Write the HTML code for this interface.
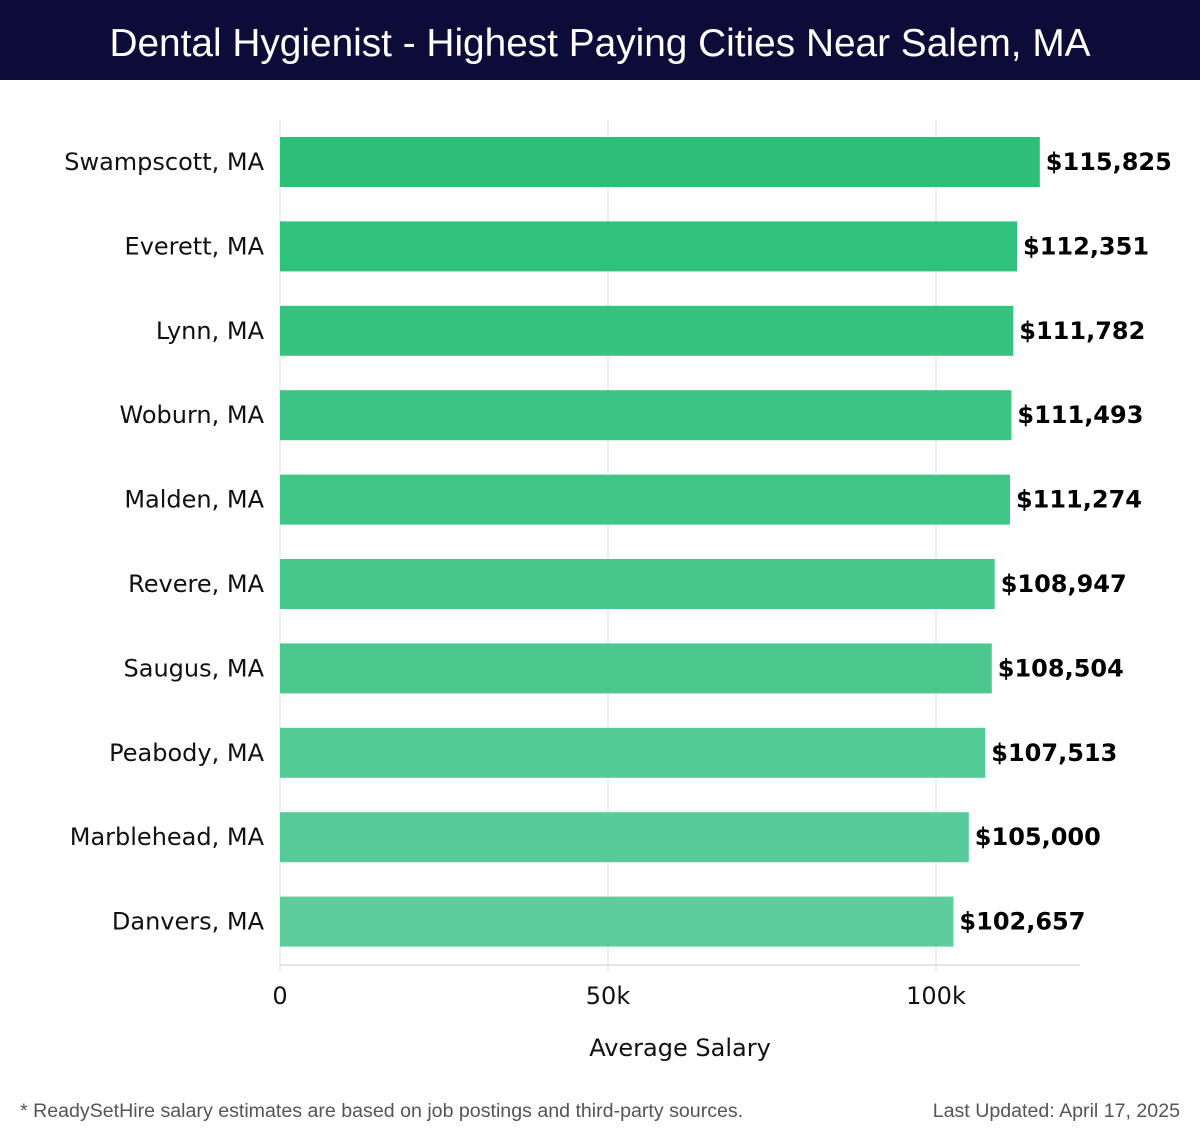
<!DOCTYPE html>
<html><head><meta charset="utf-8"><style>
body{margin:0;width:1200px;height:1140px;background:#fff;overflow:hidden;font-family:"DejaVu Sans","Liberation Sans",sans-serif}
#hdr{position:absolute;left:0;top:0;width:1200px;height:80px;background:#0d0c38;color:#fff;font-family:"Liberation Sans",sans-serif;font-size:38.8px;font-weight:300;text-align:center;line-height:88px}
.foot{position:absolute;top:1100px;font-family:"Liberation Sans",sans-serif;font-size:19.6px;color:#555}
</style></head><body>
<div id="hdr">Dental Hygienist - Highest Paying Cities Near Salem, MA</div>
<svg id="chart" width="1200" height="1100" style="position:absolute;left:0;top:0"></svg>
<div class="foot" style="left:20px">* ReadySetHire salary estimates are based on job postings and third-party sources.</div>
<div class="foot" style="right:20px">Last Updated: April 17, 2025</div>
<script>
const cities=["Swampscott, MA","Everett, MA","Lynn, MA","Woburn, MA","Malden, MA","Revere, MA","Saugus, MA","Peabody, MA","Marblehead, MA","Danvers, MA"];
const salaries=[115825,112351,111782,111493,111274,108947,108504,107513,105000,102657];
const tickValues=[0,50000,100000];
const tickLabels=["0","50k","100k"];
const NS="http://www.w3.org/2000/svg",svg=document.getElementById('chart');
const x0=280,pxPer=656/100000,top0=137,step=84.4,bh=50,axisY=965;
const X=v=>x0+v*pxPer, Y=i=>top0+i*step;
function mk(t,a,txt){const e=document.createElementNS(NS,t);for(const k in a)e.setAttribute(k,a[k]);if(txt!==undefined)e.textContent=txt;svg.appendChild(e);return e;}
tickValues.forEach((v,i)=>{
 const g=mk('line',{x1:X(v),x2:X(v),y1:120,y2:972,stroke:'#dddddd','stroke-width':1});
 
 
 const t=mk('text',{x:X(v),y:1004,'text-anchor':'middle','font-size':24,fill:'#111'},tickLabels[i]);
 
 
});
const ax=mk('line',{x1:x0,x2:1080,y1:axisY,y2:axisY,stroke:'#cccccc','stroke-width':1});


const at=mk('text',{x:680,y:1056,'text-anchor':'middle','font-size':24,fill:'#111'},'Average Salary');


const c1=[43,191,119],c2=[92,205,155];
cities.forEach((c,i)=>{
 const f=i/(cities.length-1),col=`rgb(${c1.map((a,k)=>Math.round(a+(c2[k]-a)*f)).join(',')})`;
 const b=mk('rect',{x:x0,y:Y(i),width:X(salaries[i])-x0,height:bh,fill:col});
 
 
 const l=mk('text',{x:264,y:Y(i)+bh/2+8,'text-anchor':'end','font-size':24,fill:'#111'},c);
 
 
 const v=mk('text',{x:X(salaries[i])+6,y:Y(i)+bh/2+8,'font-size':24,'font-weight':'bold',fill:'#000'},'$'+salaries[i].toLocaleString('en-US'));
 
 
});
</script>
</body></html>
